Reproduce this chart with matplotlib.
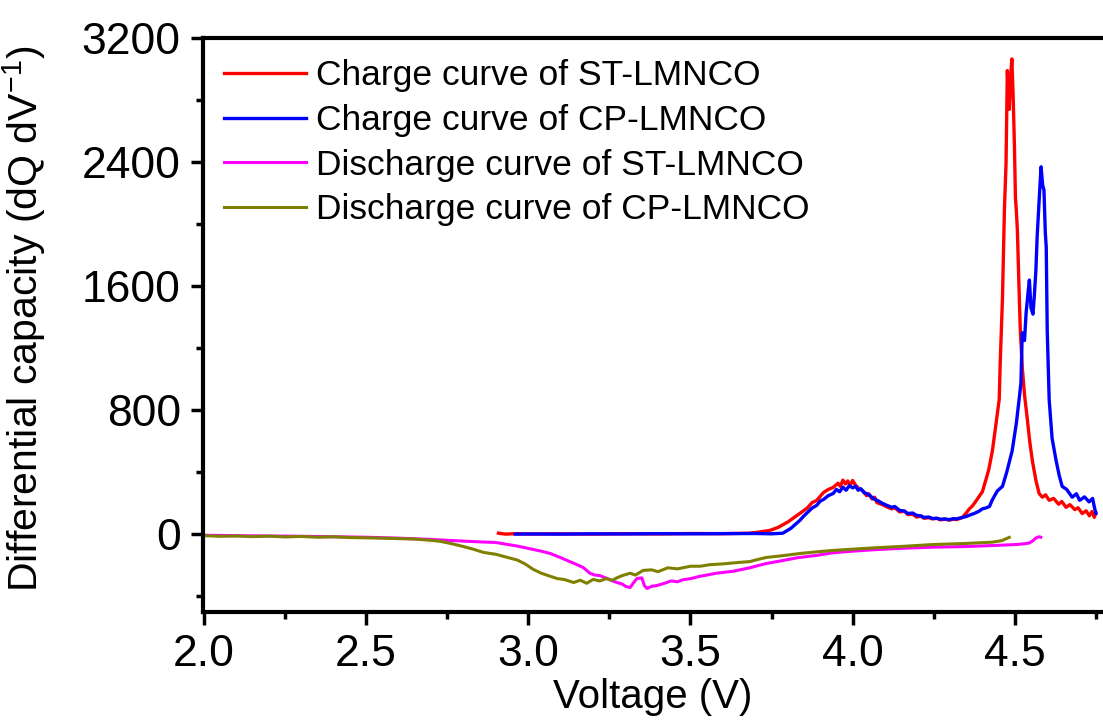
import matplotlib
matplotlib.use('Agg')
import matplotlib.pyplot as plt
from matplotlib.ticker import MultipleLocator

plt.rcParams['font.family'] = ['Liberation Sans', 'DejaVu Sans']
plt.rcParams['mathtext.fontset'] = 'custom'
plt.rcParams['mathtext.rm'] = 'Liberation Sans'

# Charge curve of ST-LMNCO
v_st_charge = [2.908, 2.93, 2.96, 3.0, 3.1, 3.2, 3.3, 3.4, 3.5, 3.6, 3.68, 3.70, 3.72, 3.745, 3.77,
               3.80, 3.82, 3.837, 3.86, 3.875, 3.889, 3.90, 3.91, 3.925, 3.94, 3.955, 3.962, 3.97,
               3.978, 3.985, 3.992, 4.0, 4.008, 4.015, 4.022, 4.03, 4.043, 4.05, 4.06, 4.068, 4.075,
               4.092, 4.105, 4.12, 4.13, 4.145, 4.16, 4.17, 4.185, 4.197, 4.21, 4.22, 4.235, 4.246,
               4.26, 4.27, 4.285, 4.298, 4.31, 4.32, 4.338, 4.351, 4.36, 4.37, 4.382, 4.39, 4.40,
               4.412, 4.42, 4.431, 4.44, 4.452, 4.455, 4.462, 4.468, 4.473, 4.477, 4.481, 4.483,
               4.487, 4.491, 4.495, 4.499, 4.502, 4.505, 4.508, 4.514, 4.517, 4.523, 4.53, 4.538,
               4.546, 4.554, 4.565, 4.575, 4.585, 4.595, 4.606, 4.62, 4.635, 4.645, 4.658, 4.67,
               4.685, 4.695, 4.708, 4.72, 4.73, 4.738, 4.745, 4.75]
dq_st_charge = [8, 2, 5, 3, 4, 2, 5, 3, 6, 5, 8, 12, 18, 26, 45,
                80, 110, 135, 170, 205, 219, 245, 270, 290, 303, 330, 310, 350,
                325, 345, 315, 348, 320, 305, 290, 285, 250, 262, 228, 240, 205,
                192, 178, 165, 172, 145, 150, 128, 130, 112, 118, 104, 108, 100,
                104, 94, 98, 92, 98, 96, 108, 140, 165, 185, 220, 245, 275,
                360, 420, 540, 680, 870, 1100, 1520, 2090, 2390, 2990, 2820, 2740,
                2950, 3065, 2820, 2500, 2170, 2080, 1960, 1520, 1320, 1080, 900, 755,
                600, 477, 350, 264, 240, 255, 220, 232, 195, 212, 175, 192,
                160, 172, 135, 152, 120, 148, 110, 140]

# Charge curve of CP-LMNCO
v_cp_charge = [2.96, 3.0, 3.1, 3.2, 3.3, 3.4, 3.5, 3.6, 3.7, 3.75, 3.785, 3.81, 3.837, 3.85, 3.86,
               3.875, 3.889, 3.90, 3.91, 3.925, 3.94, 3.95, 3.96, 3.97, 3.98, 3.99, 4.0, 4.01,
               4.017, 4.025, 4.035, 4.043, 4.055, 4.065, 4.08, 4.092, 4.105, 4.12, 4.13, 4.145,
               4.16, 4.17, 4.185, 4.197, 4.21, 4.22, 4.235, 4.246, 4.26, 4.27, 4.285, 4.298, 4.31,
               4.32, 4.335, 4.35, 4.365, 4.375, 4.39, 4.40, 4.41, 4.422, 4.43, 4.446, 4.462,
               4.475, 4.492, 4.505, 4.515, 4.519, 4.523, 4.53, 4.535, 4.541, 4.545, 4.55, 4.556,
               4.56, 4.565, 4.569, 4.575, 4.581, 4.586, 4.59, 4.594, 4.597, 4.600, 4.606, 4.615,
               4.627, 4.637, 4.646, 4.66, 4.677, 4.69, 4.70, 4.715, 4.729, 4.74, 4.745, 4.75]
dq_cp_charge = [2, 3, 2, 4, 3, 5, 4, 5, 6, 4, 8, 40, 90, 120, 140,
                170, 187, 215, 225, 250, 264, 290, 275, 305, 285, 315, 300, 310,
                285, 295, 270, 264, 248, 230, 215, 200, 188, 175, 180, 155,
                150, 135, 138, 123, 120, 110, 112, 103, 104, 98, 100, 95, 102,
                100, 108, 115, 128, 135, 150, 165, 170, 180, 220, 280, 310,
                400, 540, 720, 900, 980, 1300, 1250, 1430, 1560, 1640, 1460, 1420,
                1530, 1700, 1920, 2150, 2370, 2250, 2220, 1950, 1850, 1320, 870, 620,
                480, 380, 310, 290, 240, 262, 220, 242, 210, 232, 180, 135]

# Discharge curve of ST-LMNCO
v_st_dis = [2.0, 2.1, 2.2, 2.3, 2.4, 2.5, 2.6, 2.7, 2.76, 2.85, 2.9, 2.966, 3.0, 3.04, 3.068,
            3.1, 3.12, 3.145, 3.169, 3.19, 3.205, 3.22, 3.243, 3.26, 3.273, 3.29, 3.30, 3.314,
            3.325, 3.335, 3.35, 3.358, 3.366, 3.38, 3.397, 3.42, 3.44, 3.46, 3.477, 3.50, 3.529,
            3.55, 3.58, 3.60, 3.63, 3.66, 3.683, 3.71, 3.735, 3.78, 3.83, 3.889, 3.94, 4.0, 4.07,
            4.145, 4.25, 4.35, 4.45, 4.505, 4.53, 4.545, 4.556, 4.566, 4.575, 4.58]
dq_st_dis = [-5, -8, -10, -12, -15, -18, -24, -32, -39, -48, -52, -75, -90, -108, -123,
             -150, -168, -190, -213, -250, -262, -265, -284, -300, -310, -320, -335, -342,
             -310, -284, -280, -330, -348, -335, -329, -315, -300, -305, -292, -285, -270,
             -262, -250, -245, -238, -225, -215, -200, -187, -170, -150, -135, -118, -108, -98,
             -90, -82, -78, -70, -65, -60, -55, -40, -22, -15, -18]

# Discharge curve of CP-LMNCO
v_cp_dis = [2.0, 2.05, 2.1, 2.15, 2.2, 2.25, 2.3, 2.35, 2.4, 2.45, 2.5, 2.55, 2.6, 2.65, 2.7,
            2.73, 2.76, 2.8, 2.83, 2.862, 2.9, 2.93, 2.966, 2.99, 3.015, 3.04, 3.068, 3.09,
            3.11, 3.14, 3.16, 3.18, 3.2, 3.22, 3.24, 3.26, 3.273, 3.29, 3.314, 3.33, 3.354,
            3.38, 3.40, 3.43, 3.46, 3.5, 3.53, 3.56, 3.6, 3.64, 3.683, 3.71, 3.735, 3.78,
            3.837, 3.89, 3.94, 4.0, 4.07, 4.145, 4.25, 4.35, 4.43, 4.46, 4.483]
dq_cp_dis = [-8, -12, -10, -14, -11, -16, -13, -18, -15, -20, -22, -24, -27, -30, -38,
             -45, -58, -78, -95, -116, -128, -145, -165, -190, -225, -250, -270, -285,
             -290, -310, -295, -315, -290, -300, -285, -295, -280, -265, -250, -262, -232,
             -228, -240, -215, -222, -205, -205, -195, -190, -182, -175, -160, -148, -138,
             -123, -112, -103, -95, -86, -78, -65, -58, -50, -40, -19]

labels = ['Charge curve of ST-LMNCO', 'Charge curve of CP-LMNCO',
          'Discharge curve of ST-LMNCO', 'Discharge curve of CP-LMNCO']
colors = ['#ff0000', '#0000ff', '#ff00ff', '#808000']

fig = plt.figure(figsize=(11.03, 7.27), dpi=100)
ax = fig.add_axes([203 / 1103, (727 - 612) / 727, 900 / 1103, (612 - 38) / 727])

ax.plot(v_st_charge, dq_st_charge, color=colors[0], lw=2.4, label=labels[0])
ax.plot(v_cp_charge, dq_cp_charge, color=colors[1], lw=2.4, label=labels[1])
ax.plot(v_st_dis, dq_st_dis, color=colors[2], lw=2.2, label=labels[2])
ax.plot(v_cp_dis, dq_cp_dis, color=colors[3], lw=2.2, label=labels[3])

ax.set_xlim(1.997, 4.772)
ax.set_ylim(-500, 3200)
ax.xaxis.set_major_locator(MultipleLocator(0.5))
ax.xaxis.set_minor_locator(MultipleLocator(0.25))
ax.yaxis.set_major_locator(MultipleLocator(800))
ax.yaxis.set_minor_locator(MultipleLocator(400))
ax.set_xticks([2.0, 2.5, 3.0, 3.5, 4.0, 4.5])
ax.set_xticklabels(['2.0', '2.5', '3.0', '3.5', '4.0', '4.5'])

for side in ['left', 'top', 'bottom']:
    ax.spines[side].set_linewidth(3)
ax.spines['right'].set_visible(False)
ax.tick_params(which='major', direction='out', length=9, width=2.5, labelsize=32, pad=7)
ax.tick_params(which='minor', direction='out', length=5, width=2.5)
ax.tick_params(top=False, right=False)

ax.set_xlabel('Voltage (V)', fontsize=29, labelpad=2)
ax.set_ylabel(r'Differential capacity (dQ dV$^{-1}$)', fontsize=29.5)
ax.yaxis.set_label_coords(-0.172, 0.51)

ax.legend(loc='upper left', bbox_to_anchor=(0.0, 1.0), frameon=False, fontsize=25.5,
          handlelength=2.3, handletextpad=0.3, labelspacing=0.33, borderaxespad=0.2)

fig.savefig('out.png', dpi=100)
